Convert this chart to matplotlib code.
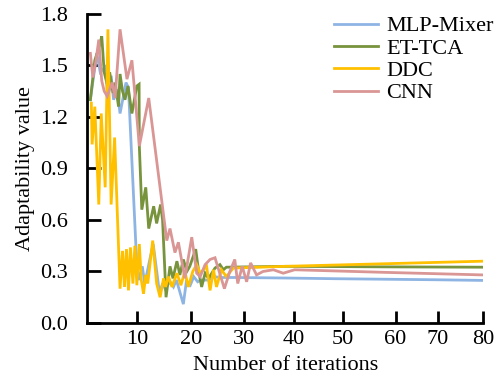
import matplotlib
matplotlib.use("Agg")
import matplotlib.pyplot as plt

plt.rcParams['font.family'] = ['Liberation Serif', 'DejaVu Serif']
plt.rcParams['font.size'] = 16

# MLP-Mixer
mlp_x = [0.6, 1.9, 2.6, 3.6, 4.1, 4.8, 5.3, 6.0, 6.6, 7.8, 8.3, 10.0, 10.5, 11.1, 11.6, 12.4,
         13.3, 14.6, 15.2, 15.7, 16.7, 17.4, 18.0, 19.4, 20.0, 20.8, 21.5, 22.3, 23.0, 24.5,
         25.5, 27.0, 30.0, 40.0, 50.0, 60.0, 70.0, 80.0]
mlp_y = [1.30, 1.57, 1.46, 1.49, 1.34, 1.44, 1.30, 1.36, 1.22, 1.40, 1.37, 0.33, 0.25, 0.33, 0.23, 0.34,
         0.46, 0.17, 0.23, 0.20, 0.24, 0.21, 0.25, 0.11, 0.24, 0.22, 0.27, 0.24, 0.25, 0.25,
         0.27, 0.265, 0.265, 0.262, 0.258, 0.255, 0.252, 0.248]

# ET-TCA
et_x = [0.6, 1.5, 2.3, 2.6, 2.9, 3.4, 4.0, 4.5, 5.2, 5.6, 6.3, 6.6, 7.1, 7.6, 8.2, 9.0, 10.0, 10.45,
        10.5, 11.0, 11.8, 12.4, 13.4, 14.0, 14.8, 15.2, 15.9, 16.7, 17.3, 18.1, 18.7, 19.4, 20.1,
        20.7, 21.9, 22.5, 23.1, 23.8, 24.5, 25.8, 26.8, 27.5, 28.1, 40.0, 60.0, 80.0]
et_y = [1.30, 1.53, 1.60, 1.63, 1.67, 1.46, 1.39, 1.46, 1.34, 1.40, 1.26, 1.45, 1.35, 1.30, 1.38, 1.22, 1.38, 1.39,
        1.03, 0.66, 0.79, 0.55, 0.68, 0.58, 0.69, 0.60, 0.15, 0.33, 0.26, 0.36, 0.28, 0.37, 0.30,
        0.33, 0.43, 0.30, 0.21, 0.29, 0.26, 0.32, 0.34, 0.31, 0.325, 0.33, 0.327, 0.325]

# DDC
ddc_x = [0.8, 0.95, 1.5, 2.3, 2.8, 3.6, 4.15, 4.8, 5.5, 6.6, 7.1, 7.5, 7.9, 8.3, 8.7, 9.2, 9.6, 10.0,
         10.5, 10.9, 11.35, 11.8, 12.2, 13.2, 14.0, 14.7, 15.4, 15.8, 16.4, 17.1, 18.1, 18.9, 19.7,
         20.4, 21.3, 22.1, 22.8, 24.1, 24.8, 25.5, 26.1, 27.1, 28.1, 29.5, 40.0, 60.0, 80.0]
ddc_y = [1.28, 1.04, 1.26, 0.69, 1.22, 0.79, 1.71, 0.69, 1.08, 0.20, 0.42, 0.21, 0.43, 0.19, 0.44, 0.23, 0.45, 0.22,
         0.46, 0.25, 0.17, 0.28, 0.23, 0.48, 0.23, 0.15, 0.26, 0.21, 0.27, 0.21, 0.29, 0.22, 0.30,
         0.21, 0.30, 0.34, 0.29, 0.33, 0.19, 0.31, 0.21, 0.31, 0.27, 0.32, 0.33, 0.345, 0.36]

# CNN
cnn_x = [0.6, 1.1, 1.7, 2.3, 2.9, 3.4, 4.0, 5.0, 5.6, 6.6, 8.0, 9.0, 9.7, 10.5, 12.4, 16.05, 16.7,
         17.7, 18.4, 19.7, 21.1, 22.1, 22.8, 23.8, 24.8, 25.8, 27.7, 28.8, 29.8, 30.4, 31.3, 32.2,
         33.0, 34.2, 35.5, 37.6, 39.6, 41.9, 60.0, 80.0]
cnn_y = [1.57, 1.43, 1.52, 1.65, 1.41, 1.35, 1.32, 1.40, 1.31, 1.71, 1.42, 1.53, 1.30, 1.03, 1.31, 0.48, 0.55,
         0.41, 0.47, 0.26, 0.50, 0.29, 0.27, 0.34, 0.37, 0.38, 0.20, 0.30, 0.37, 0.23, 0.33, 0.24,
         0.35, 0.28, 0.30, 0.31, 0.29, 0.31, 0.295, 0.28]

series_names = ["MLP-Mixer", "ET-TCA", "DDC", "CNN"]
colors = ["#8EB4E3", "#77933C", "#FFC000", "#D99694"]

x_tick_labels = ["10", "20", "30", "40", "50", "60", "70", "80"]
x_tick_pos = [10, 20.9, 31.6, 41.7, 51.7, 62.3, 70.8, 80]
y_ticks = [0.0, 0.3, 0.6, 0.9, 1.2, 1.5, 1.8]

fig = plt.figure(figsize=(4.98, 3.77), dpi=100)
ax = fig.add_axes([0.1755, 0.1432, 0.7945, 0.820])

data = [(mlp_x, mlp_y), (et_x, et_y), (ddc_x, ddc_y), (cnn_x, cnn_y)]
lines = []
for (xs, ys), name, c in zip(data, series_names, colors):
    ln, = ax.plot(xs, ys, color=c, lw=2.0, label=name, solid_joinstyle='miter')
    lines.append(ln)

ax.set_xlim(0, 80)
ax.set_ylim(0, 1.8)
ax.set_xticks(x_tick_pos)
ax.set_xticklabels(x_tick_labels)
ax.set_yticks(y_ticks)
ax.set_yticklabels([f"{v:.1f}" for v in y_ticks])
for s in ["top", "right"]:
    ax.spines[s].set_visible(False)
for s in ["left", "bottom"]:
    ax.spines[s].set_linewidth(2.0)
ax.tick_params(axis='y', direction='in', length=10, width=2.0, pad=14)
ax.tick_params(axis='x', direction='in', length=8.5, width=2.0, pad=5)
ax.set_xlabel("Number of iterations", labelpad=5)
ax.set_ylabel("Adaptability value", labelpad=4)

fig.legend(handles=lines, loc='upper left', bbox_to_anchor=(0.670, 0.958),
           frameon=False, borderpad=0, borderaxespad=0, handlelength=2.0,
           handletextpad=0.38, labelspacing=0.08, fontsize=16)

fig.savefig("out.png", dpi=100)
